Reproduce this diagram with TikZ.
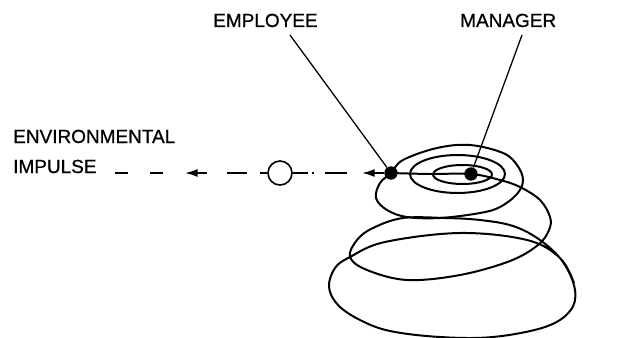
\documentclass[tikz,border=0pt]{standalone}
\usepackage{fontspec}
\setmainfont{Liberation Sans}
\newfontfamily\lblfont[FakeBold=0.8]{Liberation Sans}
\usepackage{tikz}
\usetikzlibrary{arrows.meta, positioning}

\begin{document}
\begin{tikzpicture}[
  x=0.03cm, y=-0.03cm,
  txt/.style={font=\lblfont\fontsize{16.2}{19}\selectfont, inner sep=0pt, anchor=base west},
  dot/.style={circle, fill=black, inner sep=0pt, minimum size=0.4cm},
  ring/.style={circle, draw, line width=1.4pt, fill=white, inner sep=0pt, minimum size=0.72cm},
  pointer/.style={line width=1.1pt},
  impulse/.style={line width=1.5pt},
  arrowbit/.style={line width=1.5pt, -{Latex[length=0.38cm, width=0.24cm]}},
  coil/.style={line width=1.7pt, line join=round}
]
\useasboundingbox (0,0) rectangle (643,338);

\node[txt] (env) at (13,143) {ENVIRONMENTAL};
\node[txt] (imp) at (13,173) {IMPULSE};
\node[txt] (emplbl) at (213,27) {EMPLOYEE};
\node[txt] (mgrlbl) at (460,27) {MANAGER};

\node[ring] (gap) at (280,173) {};
\node[dot] (emp) at (391,173) {};
\node[dot] (mgr) at (471,174) {};

\coordinate (empfoot) at (290,35);
\coordinate (mgrfoot) at (522,35);
\draw[pointer] (empfoot) -- (emp);
\draw[pointer] (mgrfoot) -- (mgr);

% incoming impulse
\draw[impulse] (115,173) -- (128,173) (150,173) -- (163,173)
  (227,173) -- (247,173) (260,173) -- (gap.west);
\draw[impulse] (gap.east) -- (308,173) (312,173) -- (314,173) (325,173) -- (347,173);
\draw[arrowbit] (207,173) -- (185,173);
\draw[arrowbit] (emp.west) -- (362,173);

% rings round the manager
\draw[coil] (462.5,174.5) ellipse [x radius=0.885cm, y radius=0.285cm];
\draw[coil] (457.5,174) ellipse [x radius=1.425cm, y radius=0.57cm];
\draw[coil] plot[smooth cycle, tension=0.6] coordinates {(emp.center) (403,160) (437,148)
  (470,145) (503,153) (517,165) (523,180) (517,194) (500,207) (480,213)
  (440,218) (407,217) (387,210) (376,198) (380,183)};

% path of the impulse, spiralling down
\draw[coil] plot[smooth, tension=0.6] coordinates {(emp.center) (430,174) (mgr.center)
  (500,180) (520,187) (540,200) (550,217) (549,230) (538,245) (510,261)
  (460,275) (407,280) (367,270) (350,257) (357,240) (373,228) (403,218)
  (445,218) (480,220) (513,226) (540,240) (563,262) (575,290) (570,311)
  (545,327) (493,337) (440,337) (390,331) (360,320) (338,305) (329,287)
  (335,268) (350,257) (385,242) (460,233) (527,240) (560,258) (574,283)};
\end{tikzpicture}
\end{document}
